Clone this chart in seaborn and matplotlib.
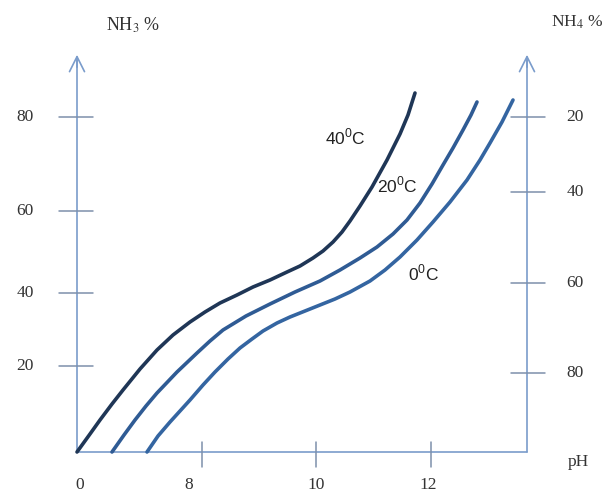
import numpy as np
import pandas as pd
import matplotlib
matplotlib.use("Agg")
import matplotlib.pyplot as plt
import seaborn as sns

# curve points (canvas units, y grows downward)
x_40 = [77, 90, 100, 112, 123, 140, 157, 173, 190, 205, 220, 237, 253, 270, 287, 300, 313, 323, 333, 342, 350, 360, 372, 387, 400, 408, 415]
y_40 = [452, 434, 420, 404, 390, 369, 350, 335, 322, 312, 303, 295, 287, 280, 272, 266, 258, 251, 242, 232, 221, 206, 187, 160, 134, 115, 93]
x_20 = [112, 124, 135, 146, 157, 177, 197, 210, 223, 246, 270, 295, 320, 340, 360, 377, 393, 407, 420, 432, 443, 453, 463, 471, 477]
y_20 = [452, 435, 420, 406, 393, 372, 353, 341, 330, 316, 304, 292, 281, 270, 258, 247, 234, 220, 203, 184, 165, 148, 130, 115, 102]
x_0 = [147, 158, 170, 180, 190, 203, 215, 228, 240, 252, 263, 277, 290, 305, 320, 335, 350, 370, 385, 400, 417, 433, 450, 467, 480, 490, 502, 513]
y_0 = [452, 436, 422, 411, 400, 385, 372, 359, 348, 339, 331, 323, 317, 311, 305, 299, 292, 281, 270, 257, 240, 222, 202, 180, 160, 143, 122, 100]
temps = ["40", "20", "0"]

left_ticks = ["80", "60", "40", "20"]
left_tick_y = [117, 211, 293, 366]
right_ticks = ["20", "40", "60", "80"]
right_tick_y = [117, 192, 283, 373]
bottom_ticks = ["8", "10", "12"]
bottom_tick_x = [202, 316, 431]

df = pd.concat([
    pd.DataFrame({"x": x_40, "y": y_40, "temp": "40"}),
    pd.DataFrame({"x": x_20, "y": y_20, "temp": "20"}),
    pd.DataFrame({"x": x_0, "y": y_0, "temp": "0"}),
])

sns.set_theme(style="white")
plt.rcParams["mathtext.fontset"] = "custom"
plt.rcParams["mathtext.rm"] = "Liberation Sans"

fig = plt.figure(figsize=(6.09, 4.93), dpi=100)
ax = fig.add_axes([0, 0, 1, 1])

axis_col = "#7a9ccb"
tick_col = "#7d90ab"
serif = "Liberation Serif"

# axes frame
ax.plot([77, 527], [452, 452], color=axis_col, lw=1.2)
ax.plot([527, 527], [452, 60], color=axis_col, lw=1.2)
ax.plot([77, 77], [452, 60], color=axis_col, lw=1.2)
for xa in [77, 527]:
    ax.annotate("", xy=(xa, 52), xytext=(xa, 70),
                arrowprops=dict(arrowstyle="->,head_length=0.9,head_width=0.45",
                                color=axis_col, lw=1.2))

for lab, yy in zip(left_ticks, left_tick_y):
    ax.plot([59, 93], [yy, yy], color=tick_col, lw=1.1)
    ax.text(25, yy, lab, ha="center", va="center", fontsize=12.5, family=serif, color="#333333")
for lab, yy in zip(right_ticks, right_tick_y):
    ax.plot([511, 545], [yy, yy], color=tick_col, lw=1.1)
    ax.text(575, yy, lab, ha="center", va="center", fontsize=12.5, family=serif, color="#333333")
for lab, xx in zip(bottom_ticks, bottom_tick_x):
    ax.plot([xx, xx], [442, 467], color=tick_col, lw=1.1)
ax.text(80, 485, "0", ha="center", va="center", fontsize=12.5, family=serif, color="#333333")
for lab, xx in zip(bottom_ticks, [189, 316, 428]):
    ax.text(xx, 485, lab, ha="center", va="center", fontsize=12.5, family=serif, color="#333333")
ax.text(578, 462, "pH", ha="center", va="center", fontsize=12.5, family=serif, color="#333333")

ax.text(133, 25, "NH$_3$ %", ha="center", va="center", fontsize=13,
        family=serif, math_fontfamily="stix", color="#333333")
ax.text(577, 22, "NH$_4$ %", ha="center", va="center", fontsize=12.5,
        family=serif, math_fontfamily="stix", color="#333333")

# curves
sns.lineplot(data=df, x="x", y="y", hue="temp", hue_order=temps, sort=False,
             palette=["#1f3656", "#2f5b94", "#3465a1"], lw=2.6, legend=False, ax=ax)
ax.set_xlim(0, 609)
ax.set_ylim(493, 0)
ax.axis("off")

ax.text(345, 137, "40$^{0}$C", ha="center", va="center", fontsize=12.5,
        family="Liberation Sans", color="#222222")
ax.text(397, 185, "20$^{0}$C", ha="center", va="center", fontsize=12.5,
        family="Liberation Sans", color="#222222")
ax.text(423, 273, "0$^{0}$C", ha="center", va="center", fontsize=12.5,
        family="Liberation Sans", color="#222222")

fig.savefig("out.png", dpi=100)
